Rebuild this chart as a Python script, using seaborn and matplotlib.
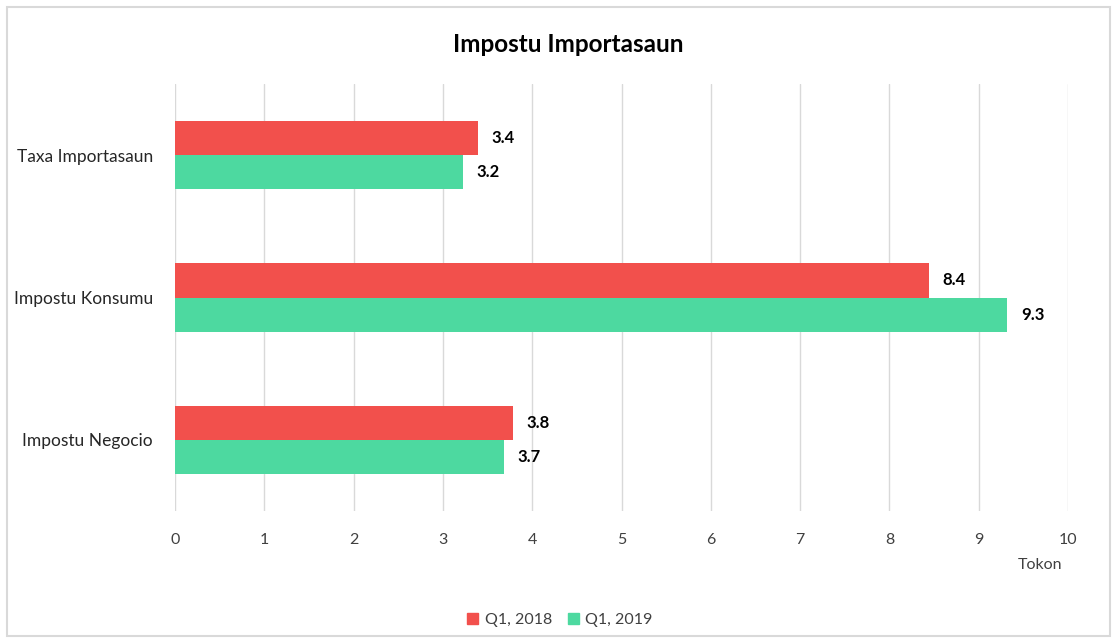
import pandas as pd
import seaborn as sns
import matplotlib.pyplot as plt
from matplotlib.patches import Rectangle

categories = ["Taxa Importasaun", "Impostu Konsumu", "Impostu Negocio"]
q1_2018 = [3.39, 8.44, 3.78]
q1_2019 = [3.22, 9.32, 3.68]
series = ["Q1, 2018", "Q1, 2019"]
colors = ["#F2504C", "#4DD9A0"]

df = pd.DataFrame({
    "cat": categories * 2,
    "val": q1_2018 + q1_2019,
    "series": [series[0]] * 3 + [series[1]] * 3,
})

sns.set_style("white")
plt.rcParams['font.family'] = ['Lato', 'DejaVu Sans']

fig = plt.figure(figsize=(11.17, 6.43), dpi=100)
ax = fig.add_axes([175 / 1117, 1 - 511 / 643, 893 / 1117, 427 / 643])

sns.barplot(data=df, y="cat", x="val", hue="series", order=categories,
            hue_order=series, palette=colors, width=0.48, orient="h",
            saturation=1, linewidth=0, ax=ax, legend=False)

# data labels
for cont in ax.containers:
    ax.bar_label(cont, fmt="%.1f", padding=10, fontsize=12, fontweight="bold",
                 color="#000000")

ax.set_xlim(0, 10)
ax.set_ylim(2.5, -0.5)
ax.set_xticks(range(0, 11))
ax.grid(axis="x", color="#d9d9d9", linewidth=1)
ax.set_axisbelow(True)
for s in ax.spines.values():
    s.set_visible(False)
ax.tick_params(axis="x", length=0, labelsize=11.5, colors="#404040", pad=16)
ax.tick_params(axis="y", length=0, labelsize=12.5, colors="#262626", pad=16)
ax.set_xlabel("")
ax.set_ylabel("")

fig.text(568 / 1117, 1 - 44 / 643, "Impostu Importasaun", ha="center", va="center",
         fontsize=17.5, fontweight="bold", color="#000000")
fig.text(1040 / 1117, 1 - 565 / 643, "Tokon", ha="center", va="center",
         fontsize=11.5, color="#404040")

# legend
handles = [Rectangle((0, 0), 1, 1, color=c) for c in colors]
fig.legend(handles, series, loc="center", bbox_to_anchor=(560 / 1117, 1 - 620 / 643),
           ncol=2, frameon=False, fontsize=11.5, handlelength=0.7, handleheight=0.7,
           handletextpad=0.4, columnspacing=1.0, labelcolor="#404040")

# chart frame
fig.patches.append(Rectangle((7 / 1117, 7 / 643), 1103 / 1117, 629 / 643,
                             transform=fig.transFigure, fill=False,
                             edgecolor="#d9d9d9", linewidth=1.5))

fig.savefig("out.png", dpi=100)
